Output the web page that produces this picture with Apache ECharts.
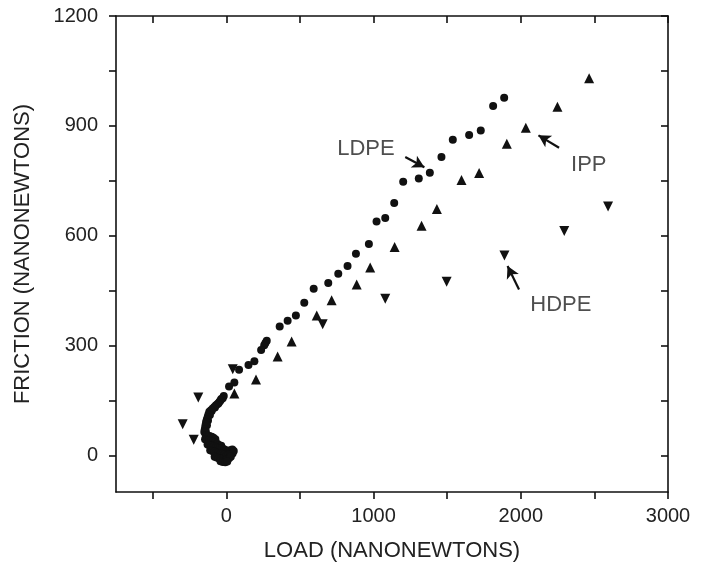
<!DOCTYPE html>
<html>
<head>
<meta charset="utf-8">
<script src="https://cdn.jsdelivr.net/npm/echarts@6/dist/echarts.min.js"></script>
<style>html,body{margin:0;padding:0;background:#fff}#c{width:714px;height:571px}</style>
</head>
<body>
<div id="c"></div>
<script>
// ---- data ----
const xTickValues = [-500, 0, 500, 1000, 1500, 2000, 2500, 3000];
const xTickLabels = [0, 1000, 2000, 3000];
const yTickValues = [0, 150, 300, 450, 600, 750, 900, 1050, 1200];
const yTickLabels = [0, 300, 600, 900, 1200];

const ldpe = [
  [1887,977],[1812,954],[1728,887],[1649,875],[1538,862],[1461,815],[1382,772],[1307,756],
  [1201,747],[1140,689],[1079,648],[1020,639],[968,577],[880,551],[823,517],[760,496],
  [692,471],[593,455],[529,417],[472,382],[416,368],[362,352],[274,313],[265,307],[257,301],[236,288],
  [190,257],[150,247],[86,234],[54,199],[18,188],[-18,162],[-25,156],[-35,154],[-40,150],[-48,146],[-55,142],[-60,140],[-71,137],
  [-78,131],[-82,132],[-93,128],[-100,121],[-105,123],[-116,119],[-112,110],[-122,112],[-127,105],[-125,95],[-133,98],[-138,91],[-132,82],[-141,84],[-143,78],[-147,71],[-140,66],[-150,64],
  [-140,55],[-128,54],[-115,53],[-100,51],[-88,48],[-75,44],
  [-145,44],[-132,42],[-118,41],[-104,39],[-90,37],[-76,35],[-62,32],[-48,28],[-35,26],
  [-128,30],[-114,28],[-100,26],[-86,24],[-72,22],[-58,20],[-44,18],[-30,20],[-16,17],[-2,14],[12,12],[26,14],[40,16],[50,12],
  [-110,14],[-96,12],[-82,10],[-68,8],[-54,6],[-40,5],[-26,4],[-12,2],[2,0],[16,2],[30,4],[42,5],
  [-80,-4],[-66,-6],[-52,-8],[-38,-9],[-24,-11],[-10,-13],[4,-12],[18,-8],[30,-4],
  [-40,-16],[-24,-18],[-8,-19],[6,-17]
];
const ipp = [
  [54,169],[201,207],[348,270],[443,311],[614,382],[715,424],[885,467],[977,513],[1143,569],
  [1326,627],[1430,673],[1597,752],[1717,771],[1905,851],[2034,895],[2249,952],[2464,1030]
];
const hdpe = [
  [-297,85],[-222,43],[-191,158],[43,235],[654,358],[1079,428],[1496,474],[1889,546],[2295,613],[2593,680]
];
// annotation texts and arrows (data coordinates)
const annotations = [
  {name:'LDPE', at:[948,838], from:[1215,815], to:[1345,787]},
  {name:'IPP',  at:[2462,794], from:[2260,840], to:[2120,874]},
  {name:'HDPE', at:[2272,412], from:[1988,453], to:[1910,517]}
];

const FONT = '"Liberation Sans", Arial, Helvetica, sans-serif';
const INK = '#111';
const axisLineStyle = {color: INK, width: 1.6};
const plain = v => String(v);

const chart = echarts.init(document.getElementById('c'), null, {renderer: 'canvas'});
chart.setOption({
  animation: false,
  backgroundColor: '#fff',
  textStyle: {fontFamily: FONT},
  grid: {left: 116, right: 46, top: 16, bottom: 79, containLabel: false},
  xAxis: [
    {
      type: 'value', min: -750, max: 3000, position: 'bottom',
      splitLine: {show: false},
      axisLine: {onZero: false, lineStyle: axisLineStyle},
      axisTick: {inside: false, length: 7, customValues: xTickValues, lineStyle: axisLineStyle},
      axisLabel: {customValues: xTickLabels, formatter: plain, fontSize: 20, color: '#222', margin: 14, fontFamily: FONT},
      name: 'LOAD (NANONEWTONS)', nameLocation: 'middle', nameGap: 48,
      nameTextStyle: {fontSize: 22, color: '#222', fontFamily: FONT}
    },
    {
      type: 'value', min: -750, max: 3000, position: 'top',
      splitLine: {show: false},
      axisLine: {onZero: false, lineStyle: axisLineStyle},
      axisTick: {inside: true, length: 7, customValues: xTickValues, lineStyle: axisLineStyle},
      axisLabel: {show: false}
    }
  ],
  yAxis: [
    {
      type: 'value', min: -100, max: 1200, position: 'left',
      splitLine: {show: false},
      axisLine: {onZero: false, lineStyle: axisLineStyle},
      axisTick: {inside: false, length: 7, customValues: yTickValues, lineStyle: axisLineStyle},
      axisLabel: {customValues: yTickLabels, formatter: plain, fontSize: 20, color: '#222', margin: 18, fontFamily: FONT},
      name: 'FRICTION (NANONEWTONS)', nameLocation: 'middle', nameGap: 82,
      nameTextStyle: {fontSize: 22, color: '#222', fontFamily: FONT}
    },
    {
      type: 'value', min: -100, max: 1200, position: 'right',
      splitLine: {show: false},
      axisLine: {onZero: false, lineStyle: axisLineStyle},
      axisTick: {inside: true, length: 7, customValues: yTickValues, lineStyle: axisLineStyle},
      axisLabel: {show: false}
    }
  ],
  series: [
    {
      name: 'LDPE', type: 'scatter', data: ldpe, symbol: 'circle', symbolSize: 8,
      itemStyle: {color: INK, opacity: 1}
    },
    {
      name: 'IPP', type: 'scatter', data: ipp, symbol: 'triangle', symbolSize: 10,
      itemStyle: {color: INK, opacity: 1}
    },
    {
      name: 'HDPE', type: 'scatter', data: hdpe, symbol: 'triangle', symbolRotate: 180, symbolSize: 10,
      itemStyle: {color: INK, opacity: 1}
    },
    {
      name: 'annotations', type: 'scatter', symbolSize: 0,
      data: annotations.map(a => ({name: a.name, value: a.at})),
      itemStyle: {color: 'transparent'},
      label: {show: true, position: 'inside', formatter: '{b}', fontSize: 22, color: '#222', fontFamily: FONT},
      silent: true,
      markLine: {
        silent: true, animation: false,
        symbol: ['none', 'arrow'], symbolSize: [10, 12],
        lineStyle: {color: INK, width: 2.2, type: 'solid', opacity: 1},
        label: {show: false},
        data: annotations.map(a => [{coord: a.from}, {coord: a.to}])
      }
    }
  ]
});
</script>
</body>
</html>
